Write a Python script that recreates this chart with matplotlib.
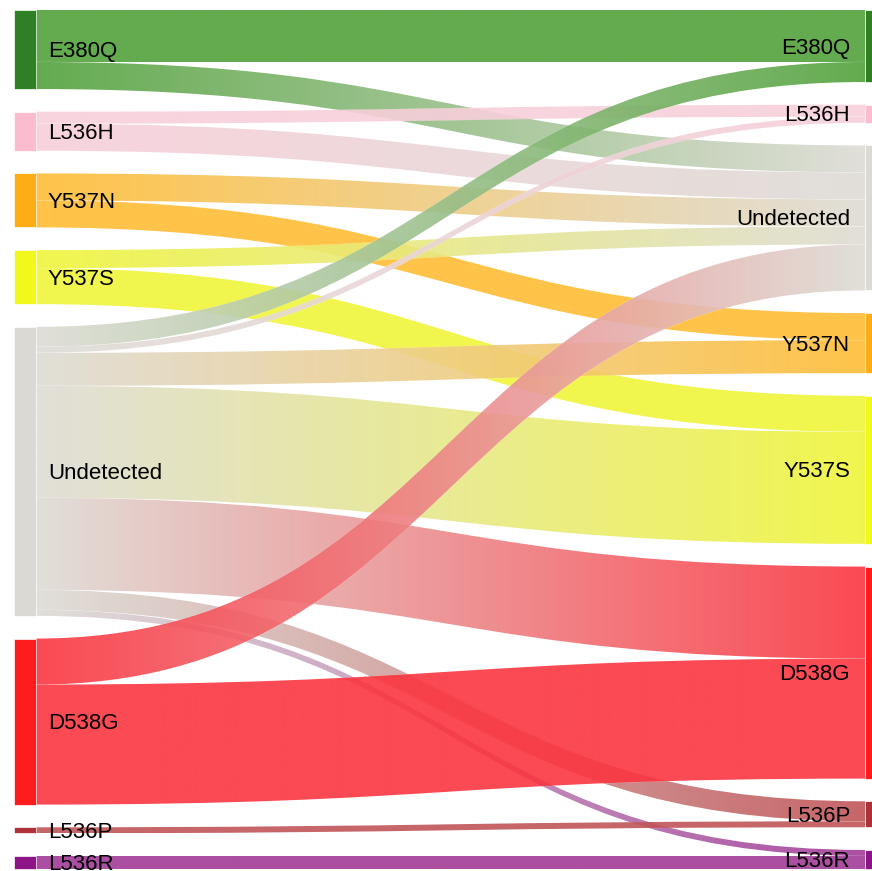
import numpy as np
import matplotlib.pyplot as plt
from matplotlib.path import Path
from matplotlib.patches import PathPatch, Rectangle
from matplotlib.colors import to_rgb

# node order on each side, top to bottom
left_nodes = ['E380Q', 'L536H', 'Y537N', 'Y537S', 'Undetected', 'D538G', 'L536P', 'L536R']
right_nodes = ['E380Q', 'L536H', 'Undetected', 'Y537N', 'Y537S', 'D538G', 'L536P', 'L536R']

# flows
sources = ['E380Q', 'E380Q', 'L536H', 'L536H', 'Y537N', 'Y537N', 'Y537S', 'Y537S',
           'Undetected', 'Undetected', 'Undetected', 'Undetected', 'Undetected',
           'Undetected', 'Undetected', 'D538G', 'D538G', 'L536P', 'L536R']
targets = ['E380Q', 'Undetected', 'L536H', 'Undetected', 'Undetected', 'Y537N',
           'Undetected', 'Y537S', 'E380Q', 'L536H', 'Y537N', 'Y537S', 'D538G',
           'L536P', 'L536R', 'Undetected', 'D538G', 'L536P', 'L536R']
values = [52, 27, 12, 27, 27, 27, 18, 36, 20, 6, 33, 112, 92, 20, 6, 46, 120, 6, 13]

node_colors = {'E380Q': '#2f7f24', 'L536H': '#fbbcd0', 'Y537N': '#ffad17',
               'Y537S': '#f2f71c', 'Undetected': '#dbd9d3', 'D538G': '#ff1c1c',
               'L536P': '#b0303a', 'L536R': '#8c1486'}
link_colors = {'E380Q': '#52a23c', 'L536H': '#f8cfdb', 'Y537N': '#ffbd35',
               'Y537S': '#f0f53a', 'Undetected': '#dedcd5', 'D538G': '#fb3540',
               'L536P': '#c05558', 'L536R': '#a23b98'}

W, H = 872, 871
top, bottom = 10, 869
gap = 22.7
xl0, xl1 = 14, 36
xr0, xr1 = 865, 887

fig = plt.figure(figsize=(W / 100, H / 100), dpi=100)
ax = fig.add_axes([0, 0, 1, 1])
ax.set_axis_off()

total = sum(values)
scale = (bottom - top - gap * (len(left_nodes) - 1)) / total


def layout(nodes, key):
    pos = {}
    y = top
    for n in nodes:
        h = sum(v for s, t, v in zip(sources, targets, values) if (s if key == 's' else t) == n) * scale
        pos[n] = (y, y + h)
        y += h + gap
    return pos


lpos = layout(left_nodes, 's')
rpos = layout(right_nodes, 't')

links = list(zip(sources, targets, values))
# offsets inside each node
src_y = {}
for n in left_nodes:
    y = lpos[n][0]
    for i in sorted([i for i, l in enumerate(links) if l[0] == n], key=lambda i: right_nodes.index(links[i][1])):
        src_y[i] = y
        y += links[i][2] * scale
tgt_y = {}
for n in right_nodes:
    y = rpos[n][0]
    for i in sorted([i for i, l in enumerate(links) if l[1] == n], key=lambda i: left_nodes.index(links[i][0])):
        tgt_y[i] = y
        y += links[i][2] * scale

xm = (xl1 + xr0) / 2
for i, (s, t, v) in enumerate(links):
    h = v * scale
    a0, b0 = src_y[i], tgt_y[i]
    a1, b1 = a0 + h, b0 + h
    verts = [(xl1, a0), (xm, a0), (xm, b0), (xr0, b0),
             (xr0, b1), (xm, b1), (xm, a1), (xl1, a1), (xl1, a0)]
    codes = [Path.MOVETO, Path.CURVE4, Path.CURVE4, Path.CURVE4,
             Path.LINETO, Path.CURVE4, Path.CURVE4, Path.CURVE4, Path.CLOSEPOLY]
    patch = PathPatch(Path(verts, codes), facecolor='none', edgecolor='white', lw=0.3, alpha=0.5)
    ax.add_patch(patch)
    c0, c1 = np.array(to_rgb(link_colors[s])), np.array(to_rgb(link_colors[t]))
    f = np.linspace(0, 1, 256)[:, None]
    grad = np.ones((1, 256, 4))
    grad[0, :, :3] = c0 * (1 - f) + c1 * f
    grad[0, :, 3] = 0.9
    im = ax.imshow(grad, extent=(xl1, xr0, max(a1, b1), min(a0, b0)), aspect='auto',
                   interpolation='bilinear', zorder=1)
    im.set_clip_path(patch)

for n in left_nodes:
    y0, y1 = lpos[n]
    ax.add_patch(Rectangle((xl0, y0), xl1 - xl0, y1 - y0, facecolor=node_colors[n],
                           edgecolor='white', lw=0.5, zorder=2))
    ax.text(xl1 + 12, (y0 + y1) / 2 + 2, n, ha='left', va='center', fontsize=16,
            family='Liberation Sans', zorder=3)
for n in right_nodes:
    y0, y1 = rpos[n]
    ax.add_patch(Rectangle((xr0, y0), xr1 - xr0, y1 - y0, facecolor=node_colors[n],
                           edgecolor='white', lw=0.5, zorder=2))
    ax.text(xr0 - 15, (y0 + y1) / 2 + 2, n, ha='right', va='center', fontsize=16,
            family='Liberation Sans', zorder=3)

ax.set_xlim(0, W)
ax.set_ylim(H, 0)
fig.savefig('out.png', dpi=100)
